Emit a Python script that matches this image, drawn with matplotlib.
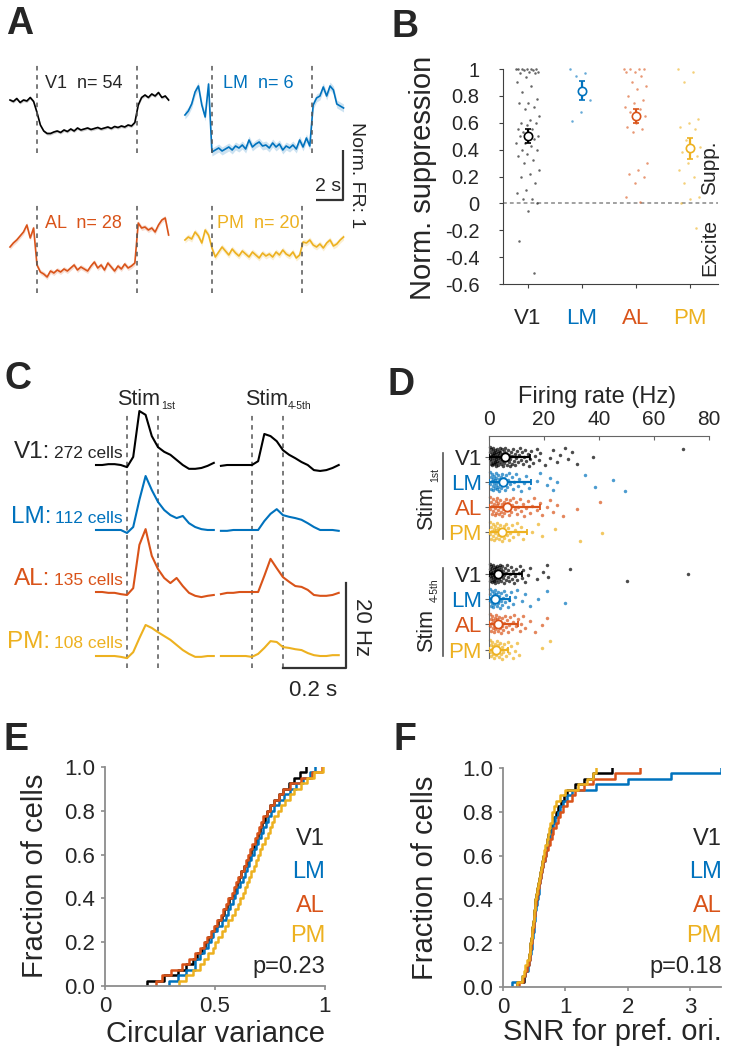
import numpy as np
import matplotlib
matplotlib.use("Agg")
import matplotlib.pyplot as plt

plt.rcParams['font.family'] = ['Liberation Sans', 'DejaVu Sans']
plt.rcParams['axes.unicode_minus'] = False
plt.rcParams['axes.facecolor'] = 'none'

areas = ["V1", "LM", "AL", "PM"]
colors = ["#000000", "#0072BD", "#D95319", "#EDB120"]
TXT = "#262626"

# ---- A: normalized firing rate traces (0.25 s bins, -2 .. 9.75 s)
a_v1 = [1.0, 0.97, 1.03, 0.95, 1.0, 0.98, 1.05, 0.97,
        0.75, 0.5, 0.38, 0.33, 0.33, 0.36, 0.38, 0.35, 0.4, 0.37, 0.42, 0.38, 0.44, 0.4, 0.42,
        0.44, 0.41, 0.43, 0.45, 0.42, 0.44, 0.46, 0.43, 0.47, 0.45, 0.48, 0.46, 0.5, 0.48, 0.55,
        0.9, 1.05, 1.1, 1.05, 1.12, 1.08, 1.15, 1.05, 1.08, 1.0]
a_lm = [0.7, 0.78, 0.92, 1.16, 1.28, 0.9, 0.66, 1.32,
        -0.04, 0.0, 0.04, -0.02, 0.02, 0.06, 0.0, 0.08, 0.04, 0.1, 0.02, 0.2, 0.06, 0.12, 0.16,
        0.08, 0.1, 0.04, 0.14, 0.06, 0.12, 0.0, 0.08, 0.04, 0.1, 0.02, 0.2, 0.06, 0.24, 0.08,
        0.9, 1.04, 1.08, 1.26, 1.08, 1.28, 1.2, 0.92, 0.88, 0.84]
a_al = [0.86, 0.94, 1.0, 1.08, 1.16, 1.3, 1.04, 1.24,
        0.5, 0.36, 0.32, 0.26, 0.38, 0.34, 0.4, 0.36, 0.42, 0.38, 0.44, 0.5, 0.4, 0.46, 0.42,
        0.38, 0.48, 0.56, 0.44, 0.5, 0.4, 0.54, 0.46, 0.38, 0.48, 0.42, 0.52, 0.44, 0.48, 0.54,
        1.34, 1.24, 1.26, 1.2, 1.24, 1.16, 1.3, 1.4, 1.44, 1.1]
a_pm = [1.0, 1.06, 1.02, 1.16, 1.08, 0.94, 1.2, 1.1,
        0.84, 0.66, 0.76, 0.86, 0.78, 0.7, 0.82, 0.74, 0.68, 0.78, 0.72, 0.66, 0.76, 0.7,
        0.64, 0.74, 0.68, 0.72, 0.66, 0.76, 0.7, 0.8, 0.72, 0.68, 0.76, 0.64, 0.7,
        0.96, 0.94, 1.0, 0.9, 0.86, 0.92, 0.84, 0.94, 1.0, 0.88, 0.92, 1.0, 1.06]
a_sem = [0.03, 0.08, 0.05, 0.06]
a_n = [54, 6, 28, 20]
a_stim_end = [7.4, 7.4, 7.4, 6.7]

# ---- B: normalized suppression per cell
b_vals = [
    [1.0, 1.0, 1.0, 1.0, 1.0, 1.0, 0.99, 0.99, 0.98, 0.98, 0.97, 0.97, 0.94, 0.9, 0.87, 0.83,
     0.78, 0.75, 0.75, 0.72, 0.7, 0.65, 0.62, 0.6, 0.6, 0.58, 0.55, 0.55, 0.53, 0.5, 0.5, 0.5,
     0.48, 0.45, 0.45, 0.43, 0.4, 0.4, 0.37, 0.35, 0.32, 0.3, 0.25, 0.22, 0.2, 0.15, 0.1, 0.08,
     0.03, 0.03, 0.0, -0.06, -0.28, -0.52],
    [1.0, 0.97, 0.95, 0.77, 0.68, 0.61],
    [1.0, 1.0, 1.0, 1.0, 0.98, 0.98, 0.95, 0.9, 0.87, 0.85, 0.8, 0.77, 0.75, 0.72, 0.7, 0.68,
     0.65, 0.6, 0.57, 0.55, 0.53, 0.3, 0.25, 0.22, 0.2, 0.15, 0.05, 0.01],
    [1.0, 0.98, 0.9, 0.63, 0.6, 0.57, 0.55, 0.47, 0.42, 0.4, 0.38, 0.35, 0.3, 0.25, 0.2, 0.15,
     0.05, 0.03, 0.0, -0.18],
]
b_mean = [0.5, 0.84, 0.65, 0.41]
b_sem = [0.05, 0.07, 0.055, 0.08]

# ---- C: PSTH (Hz), 20 ms bins from -0.1 to 0.28 s
c_first = [
    [4.0, 4.0, 4.2, 4.2, 4.0, 3.5, 5.9, 16.7, 15.8, 10.8, 8.2, 7.1, 6.4, 5.2, 4.0, 3.1, 3.1, 3.3, 3.8, 4.5],
    [3.0, 3.0, 3.0, 3.0, 3.0, 2.3, 3.7, 10.1, 15.7, 12.4, 9.6, 7.7, 6.5, 5.8, 6.3, 4.6, 3.7, 3.2, 3.0, 3.0],
    [3.0, 3.0, 2.8, 2.8, 2.5, 2.3, 3.9, 14.1, 17.8, 11.5, 8.4, 6.3, 5.1, 6.3, 4.4, 2.8, 2.1, 1.8, 2.1, 2.3],
    [2.0, 2.0, 2.0, 2.0, 1.8, 1.5, 2.9, 6.2, 9.3, 8.6, 7.6, 6.7, 5.8, 4.6, 3.4, 2.5, 1.8, 1.8, 2.0, 2.0],
]
c_later = [
    [3.8, 4.0, 4.0, 4.0, 4.0, 4.0, 4.9, 11.3, 10.8, 9.6, 7.5, 6.4, 5.6, 4.7, 4.0, 2.8, 2.6, 2.8, 3.3, 4.0],
    [2.8, 2.8, 3.0, 3.0, 3.0, 3.0, 3.0, 5.1, 6.8, 7.9, 6.5, 6.1, 5.8, 5.4, 4.6, 3.7, 3.0, 3.0, 3.0, 2.8],
    [2.5, 2.8, 2.8, 3.0, 3.0, 3.0, 3.0, 6.8, 10.8, 8.6, 6.5, 5.4, 4.4, 4.2, 3.5, 2.3, 2.1, 2.1, 2.3, 2.8],
    [2.0, 2.0, 2.0, 2.0, 2.0, 1.8, 2.5, 3.9, 5.5, 5.3, 4.1, 3.9, 3.6, 3.4, 2.7, 2.2, 2.0, 2.0, 2.2, 2.2],
]
c_cells = [272, 112, 135, 108]

# ---- D: firing rate per cell (Hz)
d_first = [
    [0.2, 0.4, 0.5, 0.6, 0.7, 0.8, 0.9, 1.0, 1.1, 1.2, 1.3, 1.4, 1.5, 1.6, 1.7, 1.8, 1.9, 2.0, 2.1,
     2.2, 2.3, 2.4, 2.5, 2.6, 2.7, 2.8, 2.9, 3.0, 3.1, 3.2, 3.3, 3.5, 3.6, 3.7, 3.9, 4.0, 4.1, 4.3,
     4.4, 4.6, 4.7, 4.9, 5.0, 5.2, 5.4, 5.5, 5.7, 5.9, 6.1, 6.3, 6.5, 6.7, 6.9, 7.1, 7.3, 7.6, 7.8,
     8.0, 8.3, 8.5, 8.8, 9.0, 9.3, 9.6, 9.9, 10.2, 10.5, 10.8, 11.2, 11.5, 11.9, 12.3, 12.7, 13.1,
     13.5, 14.0, 14.4, 14.9, 15.4, 16.0, 16.6, 17.3, 18.0, 18.6, 20.4, 22.2, 23.4, 24.6, 25.8,
     27.6, 28.8, 30.3, 31.9, 37.9, 70.5],
    [0.3, 0.5, 0.7, 0.9, 1.0, 1.2, 1.3, 1.5, 1.6, 1.8, 1.9, 2.1, 2.2, 2.4, 2.5, 2.7, 2.9, 3.0, 3.2,
     3.4, 3.6, 3.8, 4.0, 4.2, 4.4, 4.7, 4.9, 5.2, 5.4, 5.7, 6.0, 6.3, 6.6, 7.0, 7.4, 7.8, 8.2, 8.7,
     9.2, 9.8, 10.4, 11.0, 11.8, 12.6, 13.5, 14.5, 17.3, 18.5, 21.0, 22.2, 23.4, 24.6, 34.9, 38.5,
     45.2, 49.5],
    [0.3, 0.5, 0.8, 1.0, 1.2, 1.4, 1.6, 1.8, 2.0, 2.2, 2.4, 2.6, 2.8, 3.0, 3.2, 3.4, 3.6, 3.9, 4.1,
     4.3, 4.6, 4.8, 5.1, 5.3, 5.6, 5.9, 6.2, 6.5, 6.8, 7.1, 7.4, 7.8, 8.1, 8.5, 8.9, 9.3, 9.7, 10.2,
     10.7, 11.2, 11.7, 12.3, 12.9, 13.5, 14.2, 14.9, 15.7, 16.5, 17.4, 18.4, 19.2, 21.0, 22.2,
     23.4, 24.6, 27.0, 31.9, 40.4],
    [0.3, 0.5, 0.7, 0.9, 1.1, 1.3, 1.5, 1.7, 1.9, 2.1, 2.3, 2.5, 2.7, 2.9, 3.1, 3.3, 3.5, 3.8, 4.0,
     4.2, 4.5, 4.7, 5.0, 5.3, 5.6, 5.9, 6.2, 6.6, 7.0, 7.4, 7.8, 8.3, 8.8, 9.4, 10.0, 10.7, 11.5,
     12.4, 15.5, 17.9, 19.2, 24.0, 33.1, 41.0],
]
d_later = [
    [0.2, 0.3, 0.4, 0.5, 0.6, 0.7, 0.8, 0.9, 1.0, 1.1, 1.2, 1.3, 1.4, 1.5, 1.6, 1.7, 1.8, 1.9, 2.0,
     2.1, 2.2, 2.3, 2.4, 2.5, 2.6, 2.8, 2.9, 3.0, 3.1, 3.3, 3.4, 3.5, 3.7, 3.8, 4.0, 4.1, 4.3, 4.5,
     4.6, 4.8, 5.0, 5.2, 5.4, 5.6, 5.8, 6.0, 6.3, 6.5, 6.8, 7.0, 7.3, 7.6, 7.9, 8.2, 8.6, 9.0, 9.4,
     9.8, 10.3, 10.8, 11.3, 11.9, 12.5, 13.2, 14.0, 14.8, 17.3, 19.7, 21.0, 21.6, 29.4, 50.1, 72.4],
    [0.2, 0.4, 0.5, 0.7, 0.8, 1.0, 1.1, 1.3, 1.4, 1.6, 1.7, 1.9, 2.0, 2.2, 2.4, 2.6, 2.8, 3.0, 3.2,
     3.4, 3.7, 3.9, 4.2, 4.5, 4.8, 5.1, 5.5, 5.9, 6.3, 6.8, 7.3, 7.9, 8.6, 9.3, 10.0, 11.9, 13.1,
     14.9, 17.9, 21.0, 27.6],
    [0.2, 0.4, 0.6, 0.8, 1.0, 1.1, 1.3, 1.5, 1.7, 1.9, 2.0, 2.2, 2.4, 2.6, 2.8, 3.0, 3.2, 3.4, 3.6,
     3.9, 4.1, 4.3, 4.6, 4.9, 5.2, 5.5, 5.8, 6.1, 6.5, 6.9, 7.3, 7.7, 8.2, 8.7, 9.2, 9.8, 10.4,
     11.1, 11.8, 12.5, 13.1, 14.9, 16.7, 19.2, 21.0],
    [0.2, 0.4, 0.6, 0.8, 1.0, 1.2, 1.4, 1.6, 1.8, 2.0, 2.2, 2.4, 2.6, 2.8, 3.0, 3.3, 3.5, 3.8, 4.0,
     4.3, 4.6, 4.9, 5.2, 5.6, 6.0, 6.4, 6.9, 7.4, 8.0, 8.6, 9.3, 10.1, 11.0, 19.2, 22.2],
]
d_mean = [5.8, 5.2, 6.4, 4.6, 3.4, 2.2, 3.2, 2.4]
d_sd = [9.1, 10.1, 12.1, 9.1, 8.6, 5.4, 7.5, 4.6]

# ---- E: circular variance, F: SNR for preferred orientation
e_vals = [
    [0.19, 0.27, 0.33, 0.37, 0.40, 0.42, 0.44, 0.455, 0.47, 0.485, 0.50, 0.515, 0.53, 0.54, 0.555,
     0.565, 0.58, 0.59, 0.60, 0.61, 0.62, 0.63, 0.645, 0.655, 0.665, 0.675, 0.685, 0.695, 0.705,
     0.715, 0.725, 0.735, 0.75, 0.77, 0.79, 0.81, 0.835, 0.86, 0.885, 0.915],
    [0.29, 0.33, 0.37, 0.41, 0.41, 0.43, 0.45, 0.47, 0.48, 0.49, 0.51, 0.53, 0.55, 0.56, 0.57,
     0.58, 0.59, 0.60, 0.615, 0.625, 0.635, 0.645, 0.655, 0.665, 0.675, 0.685, 0.695, 0.71, 0.72,
     0.73, 0.74, 0.755, 0.77, 0.79, 0.815, 0.84, 0.87, 0.9, 0.93, 0.955],
    [0.23, 0.26, 0.3, 0.35, 0.38, 0.41, 0.43, 0.45, 0.465, 0.48, 0.495, 0.51, 0.525, 0.535, 0.55,
     0.56, 0.575, 0.585, 0.595, 0.605, 0.62, 0.63, 0.64, 0.65, 0.66, 0.67, 0.68, 0.69, 0.70, 0.71,
     0.72, 0.735, 0.75, 0.77, 0.79, 0.81, 0.84, 0.89, 0.94, 0.985],
    [0.335, 0.37, 0.40, 0.43, 0.45, 0.47, 0.49, 0.50, 0.515, 0.53, 0.545, 0.56, 0.575, 0.59, 0.605,
     0.615, 0.625, 0.635, 0.645, 0.655, 0.665, 0.675, 0.685, 0.695, 0.705, 0.715, 0.725, 0.74,
     0.75, 0.76, 0.77, 0.785, 0.80, 0.82, 0.84, 0.86, 0.89, 0.92, 0.95, 0.99],
]
f_vals = [
    [0.22, 0.33, 0.35, 0.38, 0.40, 0.415, 0.43, 0.44, 0.45, 0.46, 0.47, 0.48, 0.49, 0.50, 0.51,
     0.52, 0.535, 0.55, 0.565, 0.58, 0.595, 0.61, 0.63, 0.65, 0.67, 0.69, 0.71, 0.73, 0.76, 0.79,
     0.82, 0.85, 0.89, 0.93, 0.98, 1.03, 1.15, 1.3, 1.45, 1.75],
    [0.15, 0.3, 0.36, 0.4, 0.42, 0.435, 0.45, 0.46, 0.47, 0.48, 0.49, 0.5, 0.51, 0.52, 0.53, 0.54,
     0.555, 0.57, 0.585, 0.6, 0.615, 0.63, 0.65, 0.67, 0.69, 0.71, 0.73, 0.755, 0.78, 0.81, 0.84,
     0.88, 0.92, 0.97, 1.02, 1.1, 1.5, 2.0, 2.7, 3.5],
    [0.25, 0.32, 0.36, 0.39, 0.41, 0.43, 0.44, 0.45, 0.46, 0.47, 0.48, 0.49, 0.5, 0.51, 0.52, 0.53,
     0.545, 0.56, 0.575, 0.59, 0.61, 0.63, 0.65, 0.67, 0.69, 0.72, 0.75, 0.78, 0.81, 0.85, 0.88,
     0.92, 0.97, 1.03, 1.1, 1.16, 1.3, 1.45, 1.8, 2.2],
    [0.22, 0.3, 0.33, 0.36, 0.39, 0.41, 0.43, 0.44, 0.45, 0.46, 0.47, 0.48, 0.49, 0.5, 0.51, 0.52,
     0.53, 0.545, 0.56, 0.575, 0.59, 0.605, 0.62, 0.64, 0.66, 0.68, 0.7, 0.72, 0.74, 0.76, 0.78,
     0.79, 0.82, 0.85, 0.92, 1.0, 1.2, 1.35, 1.45, 1.5],
]
p_e, p_f = "p=0.23", "p=0.18"

W, H = 732, 1050
fig = plt.figure(figsize=(W / 100, H / 100), dpi=100)


def box(l, t, r, b):
    return fig.add_axes([l / W, 1 - b / H, (r - l) / W, (b - t) / H])


def jit(n, w):
    return ((np.arange(n) * 0.618034) % 1 - 0.5) * 2 * w


# overlay in pixel coordinates for labels and scale bars
ov = box(0, 0, W, H)
ov.set_xlim(0, W)
ov.set_ylim(H, 0)
ov.axis('off')

for lab, (x, y) in zip("ABCDEF", [(6, 6), (392, 9), (4, 361), (387, 367), (4, 722), (394, 722)]):
    ov.text(x, y, lab, fontsize=27, fontweight='bold', color=TXT, ha='left', va='top')

# ---------------- A
axA = box(0, 50, 370, 300)
axA.set_xlim(0, 27.41)
axA.set_ylim(0, 5)
axA.axis('off')
t_a = np.arange(-2, 10, 0.25)
a_traces = [a_v1, a_lm, a_al, a_pm]
a_offsets = [(2.74, 3.0), (15.7, 3.0), (2.74, 0.2), (15.7, 0.2)]
a_text_x = [3.33, 16.5, 3.33, 16.07]
for tr, sem, (x0, y0), s_end, col, name, n, tx in zip(a_traces, a_sem, a_offsets, a_stim_end,
                                                       colors, areas, a_n, a_text_x):
    tr = np.array(tr)
    axA.fill_between(t_a + x0, tr + y0 - sem, tr + y0 + sem, color=col, alpha=0.2, lw=0)
    axA.plot(t_a + x0, tr + y0, color=col, lw=1.2)
    for xs in (0, s_end):
        axA.plot([x0 + xs] * 2, [y0 - 0.05, y0 + 1.72], color='#555555', lw=1.1, ls=(0, (3, 3)))
    axA.text(tx, y0 + 1.24, f"{name}  n= {n}", color=TXT if name == "V1" else col,
             fontsize=13, ha='left', va='baseline')
# scale bar 2 s / 1 norm FR
axA.plot([23.4, 25.4, 25.4], [2.0, 2.0, 3.0], color='#333333', lw=1.6, solid_capstyle='butt')
axA.text(24.3, 2.18, "2 s", fontsize=14, color=TXT, ha='center', va='baseline')
ov.text(357, 175, "Norm. FR: 1", rotation=270, fontsize=14, color=TXT, ha='center', va='center')

# ---------------- B
axB = box(503, 69, 718, 284)
axB.set_xlim(0.54, 4.52)
axB.set_ylim(-0.6, 1.0)
axB.axhline(0, color='#888888', lw=1.1, ls=(0, (2.5, 2)), zorder=0)
for i, (vals, col) in enumerate(zip(b_vals, colors)):
    x = i + 1 + jit(len(vals), 0.22)
    axB.plot(x, vals, 'o', ms=1.8, mew=0, color=col, alpha=0.6, clip_on=False)
    axB.errorbar(i + 1, b_mean[i], yerr=b_sem[i], fmt='o', ms=6, mfc='white', mec=col, mew=1.2,
                 ecolor=col, elinewidth=1.6, capsize=2.5, capthick=1.4, zorder=4)
axB.set_yticks([1, 0.8, 0.6, 0.4, 0.2, 0, -0.2, -0.4, -0.6])
axB.set_yticklabels(["1", "0.8", "0.6", "0.4", "0.2", "0", "-0.2", "-0.4", "-0.6"])
axB.set_xticks([1, 2, 3, 4])
axB.set_xticklabels(areas)
for lbl, col in zip(axB.get_xticklabels(), [TXT] + colors[1:]):
    lbl.set_color(col)
for s in ['top', 'right']:
    axB.spines[s].set_visible(False)
for s in ['left', 'bottom']:
    axB.spines[s].set_color('#404040')
axB.tick_params(axis='y', labelsize=14.5, labelcolor=TXT, direction='out', length=3, pad=14,
                color='#404040')
axB.tick_params(axis='x', labelsize=16, direction='out', length=3, pad=14, color='#404040')
ov.text(423, 178, "Norm. suppression", rotation=90, fontsize=21, color=TXT, ha='center', va='center')
ov.text(710, 168, "Supp.", rotation=90, fontsize=15, color=TXT, ha='center', va='center')
ov.text(710, 248, "Excite", rotation=90, fontsize=15, color=TXT, ha='center', va='center')

# ---------------- C
axC = box(0, 380, 370, 700)
axC.set_xlim(-0.4097, 0.7839)
axC.set_ylim(0, 75.29)
axC.axis('off')
t_c = np.linspace(-0.1, 0.28, 20)
c_offsets = [51.29, 37.0, 22.41, 8.35]
seg2 = 0.403
for first, later, off, col in zip(c_first, c_later, c_offsets, colors):
    axC.plot(t_c, np.array(first) + off, color=col, lw=1.5)
    axC.plot(t_c + seg2, np.array(later) + off, color=col, lw=1.5)
for xs in (0, 0.1, seg2, seg2 + 0.1):
    axC.plot([xs, xs], [7.5, 67.3], color='#555555', lw=1.1, ls=(0, (3, 3)), zorder=0)
axC.plot([0.503, 0.706, 0.706], [7.53, 7.53, 27.53], color='#333333', lw=1.6)
ov.text(313, 696, "0.2 s", fontsize=16, color=TXT, ha='center', va='baseline')
ov.text(362, 627, "20 Hz", rotation=270, fontsize=16, color=TXT, ha='center', va='center')
ov.text(117, 405, "Stim", fontsize=15.5, color=TXT, ha='left', va='baseline')
ov.text(161, 409, "1st", fontsize=7.5, color=TXT, ha='left', va='baseline')
ov.text(245, 405, "Stim", fontsize=15.5, color=TXT, ha='left', va='baseline')
ov.text(288, 409, "4-5th", fontsize=7.5, color=TXT, ha='left', va='baseline')
renderer = fig.canvas.get_renderer()
for name, n, col, yb in zip(areas, c_cells, colors, [458, 523, 585, 648]):
    c = TXT if name == "V1" else col
    small = ov.text(123, yb, f"{n} cells", fontsize=12.5, color=c, ha='right', va='baseline')
    x_left = small.get_window_extent(renderer).x0
    ov.text(x_left - 4, yb, f"{name}:", fontsize=17.5, color=c, ha='right', va='baseline')

# ---------------- D
axD = box(489, 436, 709, 658)
rows = [0, 1, 2, 3, 4.68, 5.68, 6.68, 7.72]
groups = d_first + d_later
for i, (vals, row) in enumerate(zip(groups, rows)):
    col = colors[i % 4]
    axD.plot(vals, row + jit(len(vals), 0.38), 'o', ms=2.5, mew=0, color=col, alpha=0.7,
             clip_on=False)
    m, sd = d_mean[i], d_sd[i]
    axD.errorbar(m, row, xerr=[[min(sd, m)], [sd]], fmt='o', ms=6, mfc='white', mec=col, mew=1.3,
                 ecolor=col, elinewidth=1.6, capsize=2.5, capthick=1.4, zorder=4)
axD.set_xlim(0, 80)
axD.set_ylim(8.05, -0.84)
axD.xaxis.tick_top()
axD.set_xticks([0, 20, 40, 60, 80])
axD.set_yticks(rows)
axD.set_yticklabels(areas * 2)
for lbl, col in zip(axD.get_yticklabels(), ([TXT] + colors[1:]) * 2):
    lbl.set_color(col)
for s in ['bottom', 'right']:
    axD.spines[s].set_visible(False)
for s in ['top', 'left']:
    axD.spines[s].set_color('#666666')
axD.tick_params(axis='x', labelsize=15, labelcolor=TXT, direction='in', length=3, pad=5,
                color='#666666')
axD.tick_params(axis='y', labelsize=16, direction='out', length=3, pad=2, color='#666666')
ov.text(597, 403, "Firing rate (Hz)", fontsize=17, color=TXT, ha='center', va='baseline')
ov.plot([443, 443], [453, 539], color='#555555', lw=1.2)
ov.plot([443, 443], [568, 656], color='#555555', lw=1.2)
ov.text(427, 509, "Stim", rotation=90, fontsize=15.5, color=TXT, ha='center', va='center')
ov.text(435, 475, "1st", rotation=90, fontsize=7.5, color=TXT, ha='center', va='center')
ov.text(427, 631, "Stim", rotation=90, fontsize=15.5, color=TXT, ha='center', va='center')
ov.text(435, 590, "4-5th", rotation=90, fontsize=7.5, color=TXT, ha='center', va='center')


# ---------------- E / F
def cdf_panel(ax, data, xlim, xticks, xticklabels):
    for vals, col in zip(data, colors):
        x = np.sort(vals)
        y = np.arange(1, len(x) + 1) / len(x)
        ax.plot(np.r_[x[0], x], np.r_[0, y], drawstyle='steps-post', color=col, lw=1.8)
    ax.set_xlim(*xlim)
    ax.set_ylim(0, 1)
    ax.set_xticks(xticks)
    ax.set_xticklabels(xticklabels)
    ax.set_yticks([0, 0.2, 0.4, 0.6, 0.8, 1.0])
    ax.set_yticklabels(["0.0", "0.2", "0.4", "0.6", "0.8", "1.0"])
    for s in ['top', 'right']:
        ax.spines[s].set_visible(False)
    for s in ['left', 'bottom']:
        ax.spines[s].set_color('#8c8c8c')
        ax.spines[s].set_linewidth(1.3)
    ax.tick_params(labelsize=16, labelcolor=TXT, direction='out', length=3, color='#8c8c8c',
                   width=1.2, pad=4)


axE = box(105, 767, 325, 986)
cdf_panel(axE, e_vals, (0, 1), [0, 0.5, 1], ["0", "0.5", "1"])
axF = box(503, 768, 721, 987)
cdf_panel(axF, f_vals, (0, 3.5), [0, 1, 2, 3], ["0", "1", "2", "3"])

for xr, p in [(325, p_e), (722, p_f)]:
    for name, col, yb in zip(areas, colors, [845, 878, 912, 942]):
        ov.text(xr, yb, name, fontsize=17, color=TXT if name == "V1" else col,
                ha='right', va='baseline')
    ov.text(xr, 973, p, fontsize=17, color=TXT, ha='right', va='baseline')

ov.text(35, 876, "Fraction of cells", rotation=90, fontsize=21, color=TXT, ha='center', va='center')
ov.text(425, 878, "Fraction of cells", rotation=90, fontsize=21, color=TXT, ha='center', va='center')
ov.text(215, 1042, "Circular variance", fontsize=21, color=TXT, ha='center', va='baseline')
ov.text(612, 1040, "SNR for pref. ori.", fontsize=21, color=TXT, ha='center', va='baseline')

fig.savefig("out.png", dpi=100)
